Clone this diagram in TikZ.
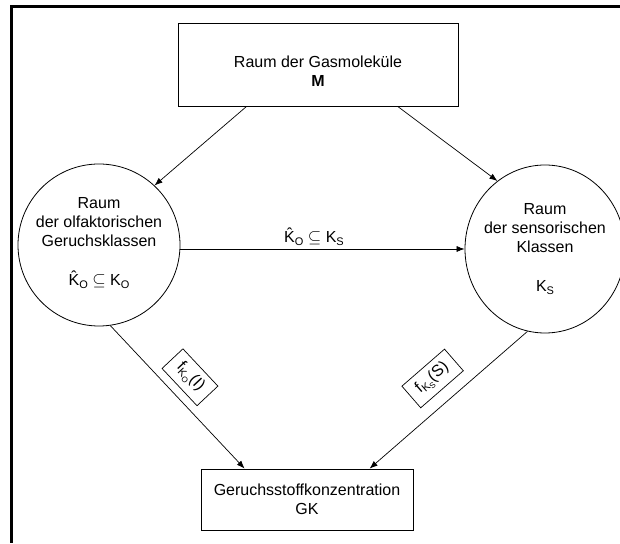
\documentclass[tikz,border=0pt]{standalone}
\usepackage{fontspec}
\setmainfont{Liberation Sans}
\usetikzlibrary{arrows.meta,shapes.geometric,positioning,calc}

\newcommand{\idx}[2]{#1\raisebox{-3pt}{\fontsize{11}{11}\selectfont #2}}

\begin{document}
\begin{tikzpicture}[x=1pt,y=1pt,
  every node/.style={font=\fontsize{16}{19}\selectfont},
  kasten/.style={draw, line width=0.8pt, inner sep=0pt},
  raum/.style={draw, line width=0.8pt, ellipse, inner sep=0pt},
  pfeil/.style={-{Latex[length=8pt,width=6pt]}, line width=0.7pt},
  fkt/.style={draw, line width=0.7pt, sloped, inner xsep=9pt, inner ysep=6pt}]
\useasboundingbox (0,0) rectangle (620,543);
% Rahmen
\draw[line width=3pt] (620,536) -- (11,536) -- (11,0);
% Kaesten
\node[kasten, minimum width=280pt, minimum height=83pt,
  label={[name=gastext, align=center, yshift=-7pt]center:Raum der Gasmoleküle\\\textbf{M}}] (gas) at (318,478.5) {};
\node[kasten, minimum width=212pt, minimum height=61pt, align=center] (gk) at (307,43.5) {Geruchsstoffkonzentration\\GK};
% Klassenraeume
\node[raum, minimum width=162pt, minimum height=162pt,
  label={[name=olftext, align=center, yshift=2pt]center:Raum\\der olfaktorischen\\Geruchsklassen\\[20pt]\idx{\^{K}}{O} $\subseteq$ \idx{K}{O}}] (olf) at (99,298) {};
\node[raum, minimum width=160pt, minimum height=168pt,
  label={[name=senstext, align=center]center:Raum\\der sensorischen\\Klassen\\[20pt]\idx{K}{S}}] (sens) at (545,294) {};
% Pfeile
\draw[pfeil] ([xshift=69pt]gas.south west) -- (olf.47);
\draw[pfeil] ([xshift=220pt]gas.south west) -- (sens.125);
\draw[pfeil] (olf.east |- sens.west) -- node[above, pos=0.47, inner sep=3pt] (inkl) {\idx{\^{K}}{O} $\subseteq$ \idx{K}{S}} (sens.west);
\draw[pfeil] (olf.-82) -- node[fkt, above=8pt, pos=0.47] (fo) {f\raisebox{-3pt}{\fontsize{11}{11}\selectfont K\raisebox{-2pt}{\fontsize{8}{8}\selectfont O}}(I)} ([xshift=44pt]gk.north west);
\draw[pfeil] (sens.-102) -- node[fkt, above=12pt, pos=0.49] (fs) {f\raisebox{-3pt}{\fontsize{11}{11}\selectfont K\raisebox{-2pt}{\fontsize{8}{8}\selectfont S}}(S)} ([xshift=169pt]gk.north west);
\end{tikzpicture}
\end{document}
